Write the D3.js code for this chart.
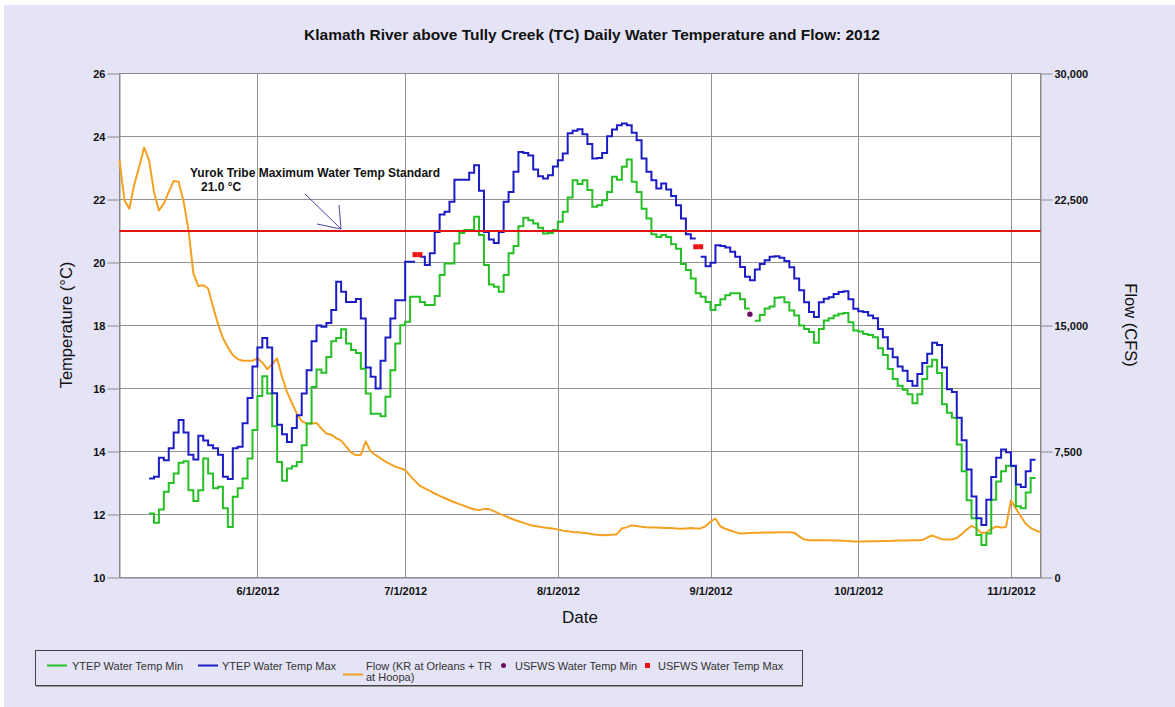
<!DOCTYPE html>
<html lang="en">
<meta charset="utf-8">
<title>Klamath River above Tully Creek (TC) 2012</title>

<!-- Load d3.js -->
<script src="https://d3js.org/d3.v7.min.js"></script>

<body>
<div id="chart"></div>
</body>

<style>
body {
  margin: 0;
  background-color: white;
}
text {
  font-family: "Liberation Sans", Arial, Helvetica, sans-serif;
  fill: #111;
}
.tickLabel {
  font-size: 11px;
  font-weight: bold;
}
.grid {
  stroke: #929292;
  stroke-width: 1px;
  shape-rendering: crispEdges;
}
.legendText {
  font-size: 11px;
  fill: #333;
}
</style>

<script>
// ---------------------------//
//      DATA                  //
// ---------------------------//

// YTEP daily water temperature (deg C), one value per day from 5/10/2012
const tempStart = "2012-05-10";
const tempMax = [
  13.14, 13.2, 13.8, 13.72, 14.1, 14.6, 15.0, 14.6, 13.9, 13.75, 14.5, 14.35, 14.2, 14.1, 13.9, 13.2, 13.13, 14.1, 14.15, 14.9, 15.7, 16.7,
  17.3, 17.6, 17.3, 15.85, 14.85, 14.55, 14.3, 14.75, 15.15, 15.84, 16.58, 17.5, 18.0, 17.96, 18.08, 18.49, 19.39, 19.07, 18.75, 18.75, 18.84, 18.22, 16.67, 16.37, 16.0, 16.88, 17.62, 18.22, 18.8, 18.8,
  20.02, 20.02, null, 20.18, 19.92, 20.29, 20.97, 21.52, 21.61, 21.93, 22.63, 22.63, 22.63, 22.85, 23.09, 22.28, 20.97, 20.73, 20.62, 20.97, 21.93, 22.24, 22.88, 23.51, 23.48, 23.4, 22.95, 22.74, 22.67, 22.77, 23.05,
  23.25, 23.46, 24.1, 24.18, 24.23, 24.07, 23.76, 23.3, 23.32, 23.48, 24.01, 24.22, 24.36, 24.41, 24.36, 24.12, 23.88, 23.3, 22.88, 22.61, 22.35, 22.51, 22.32, 22.11, 21.82, 21.4, 20.9, 20.76, null, 20.18, 19.88,
  19.99, 20.55, 20.52, 20.48, 20.34, 20.18, 19.86, 19.55, 19.44, 19.78, 19.95, 20.07, 20.18, 20.2, 20.15, 20.05, 19.85, 19.49, 19.12, 18.74, 18.43, 18.27, 18.74, 18.85, 18.9, 19.0, 19.06, 19.09, 18.83, 18.53,
  18.45, 18.43, 18.32, 18.23, 17.89, 17.63, 17.26, 16.99, 16.7, 16.56, 16.24, 16.09, 16.46, 16.81, 17.1, 17.45, 17.38, 16.67, 15.98, 15.89, 15.07, 14.36, 13.43, 12.57, 11.88, 11.67, 12.47, 13.19, 13.8, 14.06, 13.98, 13.55, 12.95, 12.87, 13.37, 13.74
];
const tempMin = [
  12.03, 11.74, 12.16, 12.72, 13.0, 13.3, 13.64, 13.69, 12.77, 12.43, 12.77, 13.78, 13.3, 12.83, 12.88, 12.2, 11.6, 12.56, 12.83, 13.14, 13.78, 14.68,
  15.76, 16.39, 15.84, 14.8, 13.67, 13.07, 13.46, 13.53, 13.67, 14.2, 14.89, 16.05, 16.6, 16.5, 17.0, 17.5, 17.6, 17.88, 17.43, 17.22, 17.13, 16.63, 15.84, 15.2, 15.2, 15.12, 15.74, 16.58, 17.43, 18.01,
  18.12, 18.91, 18.91, 18.75, 18.65, 18.65, 18.94, 19.6, 19.97, 19.97, 20.6, 20.94, 21.03, 21.03, 21.45, 20.87, 19.92, 19.3, 19.23, 19.07, 19.6, 20.29, 20.52, 21.15, 21.42, 21.34, 21.24, 21.1, 20.92, 20.94, 21.03,
  21.29, 21.61, 22.06, 22.61, 22.49, 22.61, 22.3, 21.77, 21.82, 21.98, 22.24, 22.72, 22.63, 23.04, 23.27, 22.56, 22.24, 21.71, 21.4, 20.9, 20.81, 20.87, 20.81, 20.58, 20.44, 19.95, 19.76, 19.49, 19.02, 18.91, 18.75,
  18.49, 18.65, 18.83, 18.96, 19.02, 19.02, 18.83, 18.54, null, 18.15, 18.33, 18.54, 18.6, 18.88, 18.9, 18.74, 18.48, 18.32, 18.0, 17.89, 17.79, 17.45, 17.89, 18.16, 18.23, 18.32, 18.37, 18.4, 18.1, 17.84,
  17.81, 17.73, 17.7, 17.63, 17.28, 17.06, 16.62, 16.3, 16.09, 15.96, 15.82, 15.53, 15.82, 16.3, 16.7, 16.91, 16.49, 15.5, 15.23, 15.07, 14.22, 13.37, 12.45, 11.88, 11.35, 11.03, 11.4, 12.47, 13.05, 13.37, 13.55, 13.53, 12.26, 12.2, 12.7, 13.16
];

// Flow (KR at Orleans + TR at Hoopa), cfs, one value per day from 5/4/2012
const flowStart = "2012-05-04";
const flow = [
  24850, 22450, 21950, 23400, 24450, 25600, 24850, 22950, 21850, 22250, 22950, 23600, 23550, 22400, 20700, 18100, 17350, 17400, 17200, 16100, 15100, 14250, 13700, 13250, 13000, 12900, 12900, 12900,
  13050, 12800, 12400, 12700, 13050, 11950, 11050, 10400, 9750, 9300, 9170, 9170, 9200, 8870, 8570, 8500, 8300, 8150, 7800, 7450, 7280, 7300, 8100, 7500, 7280, 7100, 6900, 6750, 6600, 6500,
  6400, 6050, 5750, 5450, 5300, 5150, 5000, 4860, 4730, 4600, 4480, 4370, 4260, 4150, 4060, 4010, 4070, 4070, 3950, 3820, 3700, 3570, 3450, 3350, 3250, 3160, 3080, 3030, 2990, 2950, 2910,
  2860, 2790, 2760, 2710, 2690, 2670, 2630, 2570, 2540, 2520, 2530, 2540, 2580, 2920, 3000, 3100, 3070, 3020, 2990, 2980, 2970, 2960, 2950, 2940, 2920, 2900, 2920, 2940, 2920, 2920, 3050,
  3320, 3510, 3050, 2900, 2800, 2700, 2620, 2640, 2650, 2660, 2670, 2675, 2680, 2685, 2690, 2695, 2695, 2670, 2450, 2270, 2220, 2220, 2220, 2215, 2210, 2205, 2200, 2190, 2170, 2150,
  2145, 2150, 2155, 2160, 2165, 2175, 2180, 2190, 2195, 2200, 2205, 2210, 2215, 2230, 2380, 2500, 2390, 2280, 2260, 2260, 2350, 2580, 2850, 3080, 2920, 2650, 2680, 2900, 3030, 2980, 3010, 4600, 4100, 3650, 3200, 2950, 2800, 2700
];

// USFWS spot values (deg C)
const usfwsMaxDates = ["2012-07-03", "2012-07-04", "2012-08-29", "2012-08-30"];
const usfwsMax = [20.25, 20.25, 20.5, 20.5];
const usfwsMinDates = ["2012-09-09"];
const usfwsMin = [18.36];

// Yurok Tribe standard
const standardTemp = 21.0;

// axes
const dateDomain = ["2012-05-04", "2012-11-07"];
const dateTicks = ["2012-06-01", "2012-07-01", "2012-08-01", "2012-09-01", "2012-10-01", "2012-11-01"];
const tempTicks = [10, 12, 14, 16, 18, 20, 22, 24, 26];
const flowTicks = [0, 7500, 15000, 22500, 30000];

// ---------------------------//
//      SETUP                 //
// ---------------------------//
const W = 1175, H = 707;
const plot = {left: 119.5, right: 1040.5, top: 73.5, bottom: 577.5};

const parse = d3.utcParse("%Y-%m-%d");

const svg = d3.select("#chart")
  .append("svg")
    .attr("width", W)
    .attr("height", H);

// page background
svg.append("rect").attr("width", W).attr("height", H).attr("fill", "white");
svg.append("rect").attr("x", 4).attr("y", 5).attr("width", W - 4).attr("height", H - 5).attr("fill", "#e4e4f6");

// scales
const x = d3.scaleUtc()
  .domain(dateDomain.map(parse))
  .range([plot.left, plot.right]);

const y = d3.scaleLinear()
  .domain([10, 26])
  .range([plot.bottom, plot.top]);

const yFlow = d3.scaleLinear()
  .domain([0, 30000])
  .range([plot.bottom, plot.top]);

// plot area
svg.append("rect")
  .attr("x", plot.left).attr("y", plot.top)
  .attr("width", plot.right - plot.left).attr("height", plot.bottom - plot.top)
  .attr("fill", "white");

// grid
svg.append("g").selectAll("line")
  .data(tempTicks)
  .enter().append("line")
    .attr("class", "grid")
    .attr("x1", plot.left).attr("x2", plot.right)
    .attr("y1", d => y(d)).attr("y2", d => y(d));

svg.append("g").selectAll("line")
  .data(dateTicks.map(parse))
  .enter().append("line")
    .attr("class", "grid")
    .attr("x1", d => Math.round(x(d)) + 0.5).attr("x2", d => Math.round(x(d)) + 0.5)
    .attr("y1", plot.top).attr("y2", plot.bottom);

svg.append("rect")
  .attr("x", plot.left).attr("y", plot.top)
  .attr("width", plot.right - plot.left).attr("height", plot.bottom - plot.top)
  .attr("fill", "none")
  .attr("stroke", "#8a8a8a")
  .style("shape-rendering", "crispEdges");

// ---------------------------//
//      AXES                  //
// ---------------------------//
let leftAxis = svg.append("g")
  .attr("transform", "translate(" + plot.left + ",0)")
  .call(d3.axisLeft(y).tickValues(tempTicks).tickSize(12).tickSizeOuter(0).tickPadding(2));

let rightAxis = svg.append("g")
  .attr("transform", "translate(" + plot.right + ",0)")
  .call(d3.axisRight(yFlow).tickValues(flowTicks).tickSize(12).tickSizeOuter(0).tickPadding(2)
    .tickFormat(d3.format(",")));

let bottomAxis = svg.append("g")
  .attr("transform", "translate(0," + plot.bottom + ")")
  .call(d3.axisBottom(x).tickValues(dateTicks.map(parse)).tickSize(0).tickPadding(10)
    .tickFormat(d3.utcFormat("%-m/%-d/%Y")));

[leftAxis, rightAxis, bottomAxis].forEach(g => {
  g.select(".domain").attr("stroke", "#8a8a8a");
  g.selectAll(".tick line").attr("stroke", "#8a8a8a");
  g.selectAll(".tick text").attr("class", "tickLabel").attr("fill", "#111");
  g.attr("font-family", null).attr("font-size", null);
});

// axis titles
svg.append("text")
  .attr("x", 592).attr("y", 40)
  .attr("text-anchor", "middle")
  .style("font-size", "15.5px").style("font-weight", "bold")
  .text("Klamath River above Tully Creek (TC) Daily Water Temperature and Flow: 2012");

svg.append("text")
  .attr("x", (plot.left + plot.right) / 2).attr("y", 623)
  .attr("text-anchor", "middle")
  .style("font-size", "17px")
  .text("Date");

svg.append("text")
  .attr("transform", "translate(72,325) rotate(-90)")
  .attr("text-anchor", "middle")
  .style("font-size", "16.5px")
  .text("Temperature (°C)");

svg.append("text")
  .attr("transform", "translate(1125,325) rotate(90)")
  .attr("text-anchor", "middle")
  .style("font-size", "16.5px")
  .text("Flow (CFS)");

// ---------------------------//
//      SERIES                //
// ---------------------------//

// daily values drawn as steps: each day holds its value until the next day
function stepPoints(start, values) {
  let s = parse(start), pts = [];
  values.forEach((v, i) => {
    pts.push({date: d3.utcDay.offset(s, i), v: v});
    pts.push({date: d3.utcDay.offset(s, i + 1), v: v});
  });
  return pts;
}

let tempLine = d3.line()
  .defined(d => d.v !== null)
  .x(d => x(d.date))
  .y(d => y(d.v));

let flowLine = d3.line()
  .x((d, i) => x(d3.utcDay.offset(parse(flowStart), i)))
  .y(d => yFlow(d));

svg.append("path")
  .datum(flow)
  .attr("fill", "none")
  .attr("stroke", "#f4a122")
  .attr("stroke-width", 2)
  .attr("stroke-linejoin", "round")
  .attr("d", flowLine);

svg.append("path")
  .datum(stepPoints(tempStart, tempMin))
  .attr("fill", "none")
  .attr("stroke", "#26bf26")
  .attr("stroke-width", 2)
  .attr("d", tempLine);

svg.append("path")
  .datum(stepPoints(tempStart, tempMax))
  .attr("fill", "none")
  .attr("stroke", "#1c1cc6")
  .attr("stroke-width", 2)
  .attr("d", tempLine);

// standard line
svg.append("line")
  .attr("x1", plot.left).attr("x2", plot.right)
  .attr("y1", y(standardTemp)).attr("y2", y(standardTemp))
  .attr("stroke", "#e01414")
  .attr("stroke-width", 2);

// USFWS points
svg.append("g").selectAll("rect")
  .data(usfwsMaxDates)
  .enter().append("rect")
    .attr("x", d => x(parse(d)) - 2.5)
    .attr("y", (d, i) => y(usfwsMax[i]) - 2.5)
    .attr("width", 5).attr("height", 5)
    .attr("fill", "#ee1111");

svg.append("g").selectAll("circle")
  .data(usfwsMinDates)
  .enter().append("circle")
    .attr("cx", d => x(parse(d)))
    .attr("cy", (d, i) => y(usfwsMin[i]))
    .attr("r", 2.7)
    .attr("fill", "#6a1060");

// ---------------------------//
//      ANNOTATION            //
// ---------------------------//
svg.append("text")
  .attr("x", 190).attr("y", 177)
  .style("font-size", "12px").style("font-weight", "bold")
  .text("Yurok Tribe Maximum Water Temp Standard");

svg.append("text")
  .attr("x", 201).attr("y", 191)
  .style("font-size", "12px").style("font-weight", "bold")
  .text(d3.format(".1f")(standardTemp) + " °C");

let tipX = 341, tipY = y(standardTemp) - 2;
svg.append("path")
  .attr("d", "M305,194L" + tipX + "," + tipY + "M317,224L" + tipX + "," + tipY + "L339,205")
  .attr("fill", "none")
  .attr("stroke", "#4646a8")
  .attr("stroke-width", 1);

// ---------------------------//
//      LEGEND                //
// ---------------------------//
let legend = svg.append("g");

legend.append("rect")
  .attr("x", 35.5).attr("y", 650.5)
  .attr("width", 767).attr("height", 35)
  .attr("fill", "none")
  .attr("stroke", "#444");
legend.append("line")
  .attr("x1", 36).attr("x2", 803)
  .attr("y1", 686.5).attr("y2", 686.5)
  .attr("stroke", "#999");

let lineItems = [
  {x: 47, y: 665.5, color: "#26bf26", label: ["YTEP Water Temp Min"], tx: 72},
  {x: 198, y: 665.5, color: "#1c1cc6", label: ["YTEP Water Temp Max"], tx: 222},
  {x: 343, y: 674.5, color: "#f4a122", label: ["Flow (KR at Orleans + TR", "at Hoopa)"], tx: 366}
];

lineItems.forEach(it => {
  legend.append("line")
    .attr("x1", it.x).attr("x2", it.x + 20)
    .attr("y1", it.y).attr("y2", it.y)
    .attr("stroke", it.color).attr("stroke-width", 2);
  it.label.forEach((t, j) => {
    legend.append("text")
      .attr("class", "legendText")
      .attr("x", it.tx).attr("y", 669.5 + j * 11)
      .text(t);
  });
});

legend.append("circle")
  .attr("cx", 503.5).attr("cy", 665.5).attr("r", 2.5)
  .attr("fill", "#6a1060");
legend.append("text")
  .attr("class", "legendText")
  .attr("x", 515).attr("y", 669.5)
  .text("USFWS Water Temp Min");

legend.append("rect")
  .attr("x", 645).attr("y", 663).attr("width", 5).attr("height", 5)
  .attr("fill", "#ee1111");
legend.append("text")
  .attr("class", "legendText")
  .attr("x", 658).attr("y", 669.5)
  .text("USFWS Water Temp Max");
</script>
</html>
